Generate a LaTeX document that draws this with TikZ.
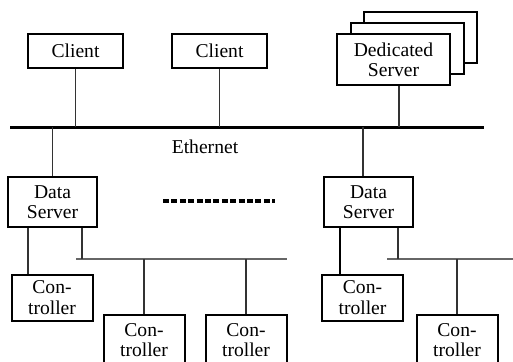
\documentclass[tikz,border=0pt]{standalone}
\usepackage{fontspec}
\setmainfont{Liberation Serif}
\usetikzlibrary{positioning,calc}

\begin{document}
\begin{tikzpicture}[x=0.5pt, y=-0.5pt,
  mybox/.style={draw, line width=1pt, fill=white, align=center, inner sep=0pt,
    font=\fontsize{9.8}{10.2}\selectfont},
  client/.style={mybox, minimum width=47.5pt, minimum height=17pt},
  dedicated/.style={mybox, minimum width=56.5pt, minimum height=25.5pt},
  dataserver/.style={mybox, minimum width=44.5pt, minimum height=25pt},
  ctrl/.style={mybox, minimum width=40.5pt, minimum height=23pt},
  lowctrl/.style={ctrl, minimum height=25pt},
  mylink/.style={line width=0.7pt, black!80},
  mybus/.style={line width=0.6pt, black!60},
  ethernet/.style={line width=1.5pt},
  more/.style={line width=1.6pt, dash pattern=on 3pt off 1.2pt}
  ]
  \useasboundingbox (0,0) rectangle (513,361);
  \clip (0,0) rectangle (513,361);

  % upper level
  \node[client] (cl1) at (75.5,51) {Client};
  \node[client] (cl2) at (219.5,51) {Client};
  \node[dedicated] (dedB) at (420.5,37) {};
  \node[dedicated] (dedM) at (407.5,48) {};
  \node[dedicated] (ded) at (393.5,59.5) {Dedicated\\Server};

  \coordinate (ethL) at (10,127);
  \coordinate (ethR) at (484,127);
  \draw[ethernet] (ethL) -- (ethR);
  \node[font=\fontsize{9.8}{10.2}\selectfont] (ethlabel) at (205,147) {Ethernet};

  \coordinate (dedtap) at ([xshift=2.75pt]ded.south);
  \draw[mylink] (cl1.south) -- (cl1.south |- ethL);
  \draw[mylink] (cl2.south) -- (cl2.south |- ethL);
  \draw[mylink] (dedtap) -- (dedtap |- ethL);

  % data servers
  \node[dataserver] (ds1) at (52.5,202) {Data\\Server};
  \node[dataserver] (ds2) at (368.5,202) {Data\\Server};
  \coordinate (ds2top) at ([xshift=-2.75pt]ds2.north);
  \draw[mylink] (ds1.north) -- (ds1.north |- ethL);
  \draw[mylink] (ds2top) -- (ds2top |- ethL);

  \coordinate (dotsL) at (163,201);
  \coordinate (dotsR) at (275,201);
  \draw[more] (dotsL) -- (dotsR);

  % controllers
  \node[ctrl] (c1) at (52,297.5) {Con-\\troller};
  \node[lowctrl] (c2) at (144,340) {Con-\\troller};
  \node[lowctrl] (c3) at (246,340) {Con-\\troller};
  \node[ctrl] (c4) at (362.5,297.5) {Con-\\troller};
  \node[lowctrl] (c5) at (457,340) {Con-\\troller};

  \coordinate (bus1L) at (76,259);
  \coordinate (bus1R) at (287,259);
  \coordinate (bus2L) at (387,259);
  \coordinate (bus2R) at (513,259);
  \draw[mybus] (bus1L) -- (bus1R);
  \draw[mybus] (bus2L) -- (bus2R);

  \coordinate (ds1a) at ([xshift=10.5pt]ds1.south west);
  \coordinate (ds1b) at ([xshift=37.5pt]ds1.south west);
  \coordinate (ds2a) at ([xshift=8.5pt]ds2.south west);
  \coordinate (ds2b) at ([xshift=37.5pt]ds2.south west);
  \draw[mylink] (ds1a) -- (ds1a |- c1.north);
  \draw[mylink] (ds1b) -- (ds1b |- bus1L);
  \draw[line width=1pt] (ds2a) -- (ds2a |- c4.north);
  \draw[mylink] (ds2b) -- (ds2b |- bus2L);

  \draw[mylink] (c2.north) -- (c2.north |- bus1L);
  \draw[mylink] (c3.north) -- (c3.north |- bus1L);
  \draw[mylink] (c5.north) -- (c5.north |- bus2L);
\end{tikzpicture}
\end{document}
